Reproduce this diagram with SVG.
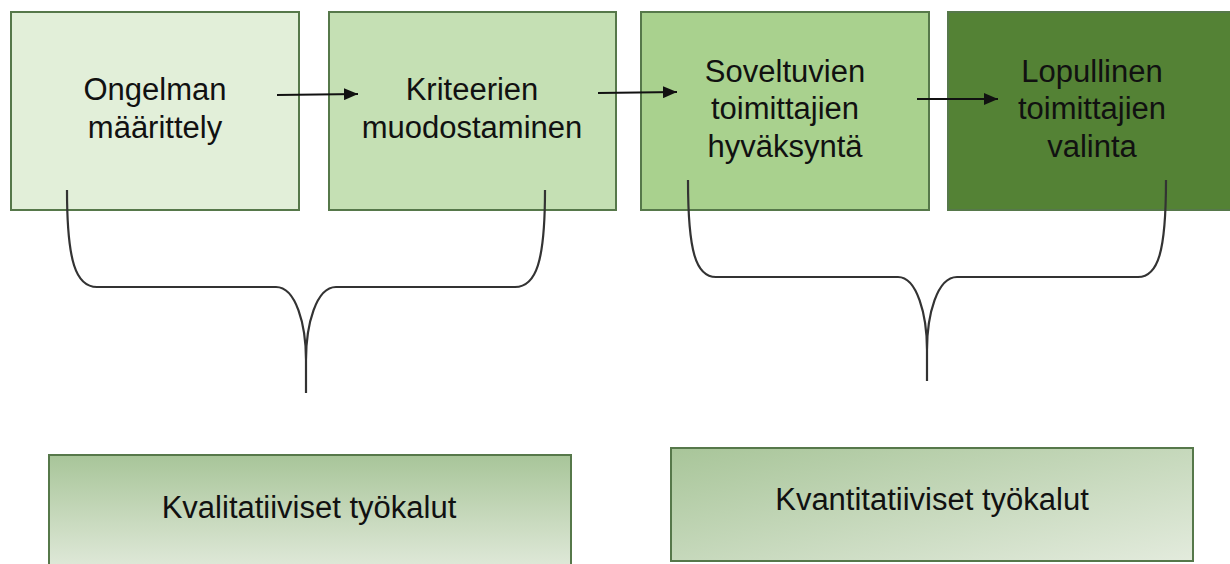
<svg xmlns="http://www.w3.org/2000/svg" width="1230" height="564" viewBox="0 0 1230 564">
<style>
.box{stroke:#56784a;stroke-width:2}
.t{font-family:"Liberation Sans",Arial,sans-serif;font-size:31px;fill:#111;text-anchor:middle}
.conn{stroke:#111;stroke-width:2;fill:none}
.brace{stroke:#333;stroke-width:2.2;fill:none}
</style>
<defs>
<marker id="ah" viewBox="0 0 14 12" refX="14" refY="6" markerWidth="14" markerHeight="12" markerUnits="userSpaceOnUse" orient="auto">
<path d="M0,0 L14,6 L0,12 Z" fill="#111"/>
</marker>
<linearGradient id="gv" x1="0" y1="0" x2="0" y2="1">
<stop offset="0" stop-color="#a8c599"/>
<stop offset="1" stop-color="#e3ebdd"/>
</linearGradient>
<linearGradient id="gd" x1="0" y1="0" x2="1" y2="1">
<stop offset="0" stop-color="#a8c599"/>
<stop offset="1" stop-color="#e3ebdd"/>
</linearGradient>
</defs>
<g id="n1"><rect class="box" x="11" y="12" width="288" height="198" fill="#e2efd9"/>
<text class="t" x="155" y="100">Ongelman</text><text class="t" x="155" y="138">määrittely</text></g>
<g id="n2"><rect class="box" x="329" y="12" width="287" height="198" fill="#c5e0b4"/>
<text class="t" x="472" y="100">Kriteerien</text><text class="t" x="472" y="138">muodostaminen</text></g>
<g id="n3"><rect class="box" x="641" y="12" width="288" height="198" fill="#a9d18e"/>
<text class="t" x="785" y="82">Soveltuvien</text><text class="t" x="785" y="119">toimittajien</text><text class="t" x="785" y="157">hyväksyntä</text></g>
<g id="n4"><rect class="box" x="948" y="12" width="290" height="198" fill="#548235"/>
<text class="t" x="1092" y="82">Lopullinen</text><text class="t" x="1092" y="119">toimittajien</text><text class="t" x="1092" y="157">valinta</text></g>
<g id="n5"><rect class="box" x="49" y="455" width="522" height="120" fill="url(#gv)" stroke-width="2.5"/>
<text class="t" x="309" y="518">Kvalitatiiviset työkalut</text></g>
<g id="n6"><rect class="box" x="671" y="448" width="522" height="113" fill="url(#gd)" stroke-width="2.5"/>
<text class="t" x="932" y="510">Kvantitatiiviset työkalut</text></g>
<g id="connectors">
<line class="conn" x1="277" y1="95" x2="358" y2="94" marker-end="url(#ah)"/>
<line class="conn" x1="598" y1="93" x2="677" y2="92" marker-end="url(#ah)"/>
<line class="conn" x1="917" y1="99" x2="998" y2="99" marker-end="url(#ah)"/>
<path class="brace" d="M67,190 C67,262 76,287 97,287 L276,287 C296,287 306,325 306,360 L306,393 M545,190 C545,262 536,287 515,287 L336,287 C316,287 306,325 306,360"/>
<path class="brace" d="M688,180 C688,252 696,277 716,277 L898,277 C917,277 927,315 927,350 L927,381 M1166,180 C1166,252 1158,277 1138,277 L957,277 C937,277 927,315 927,350"/>
</g>
</svg>
